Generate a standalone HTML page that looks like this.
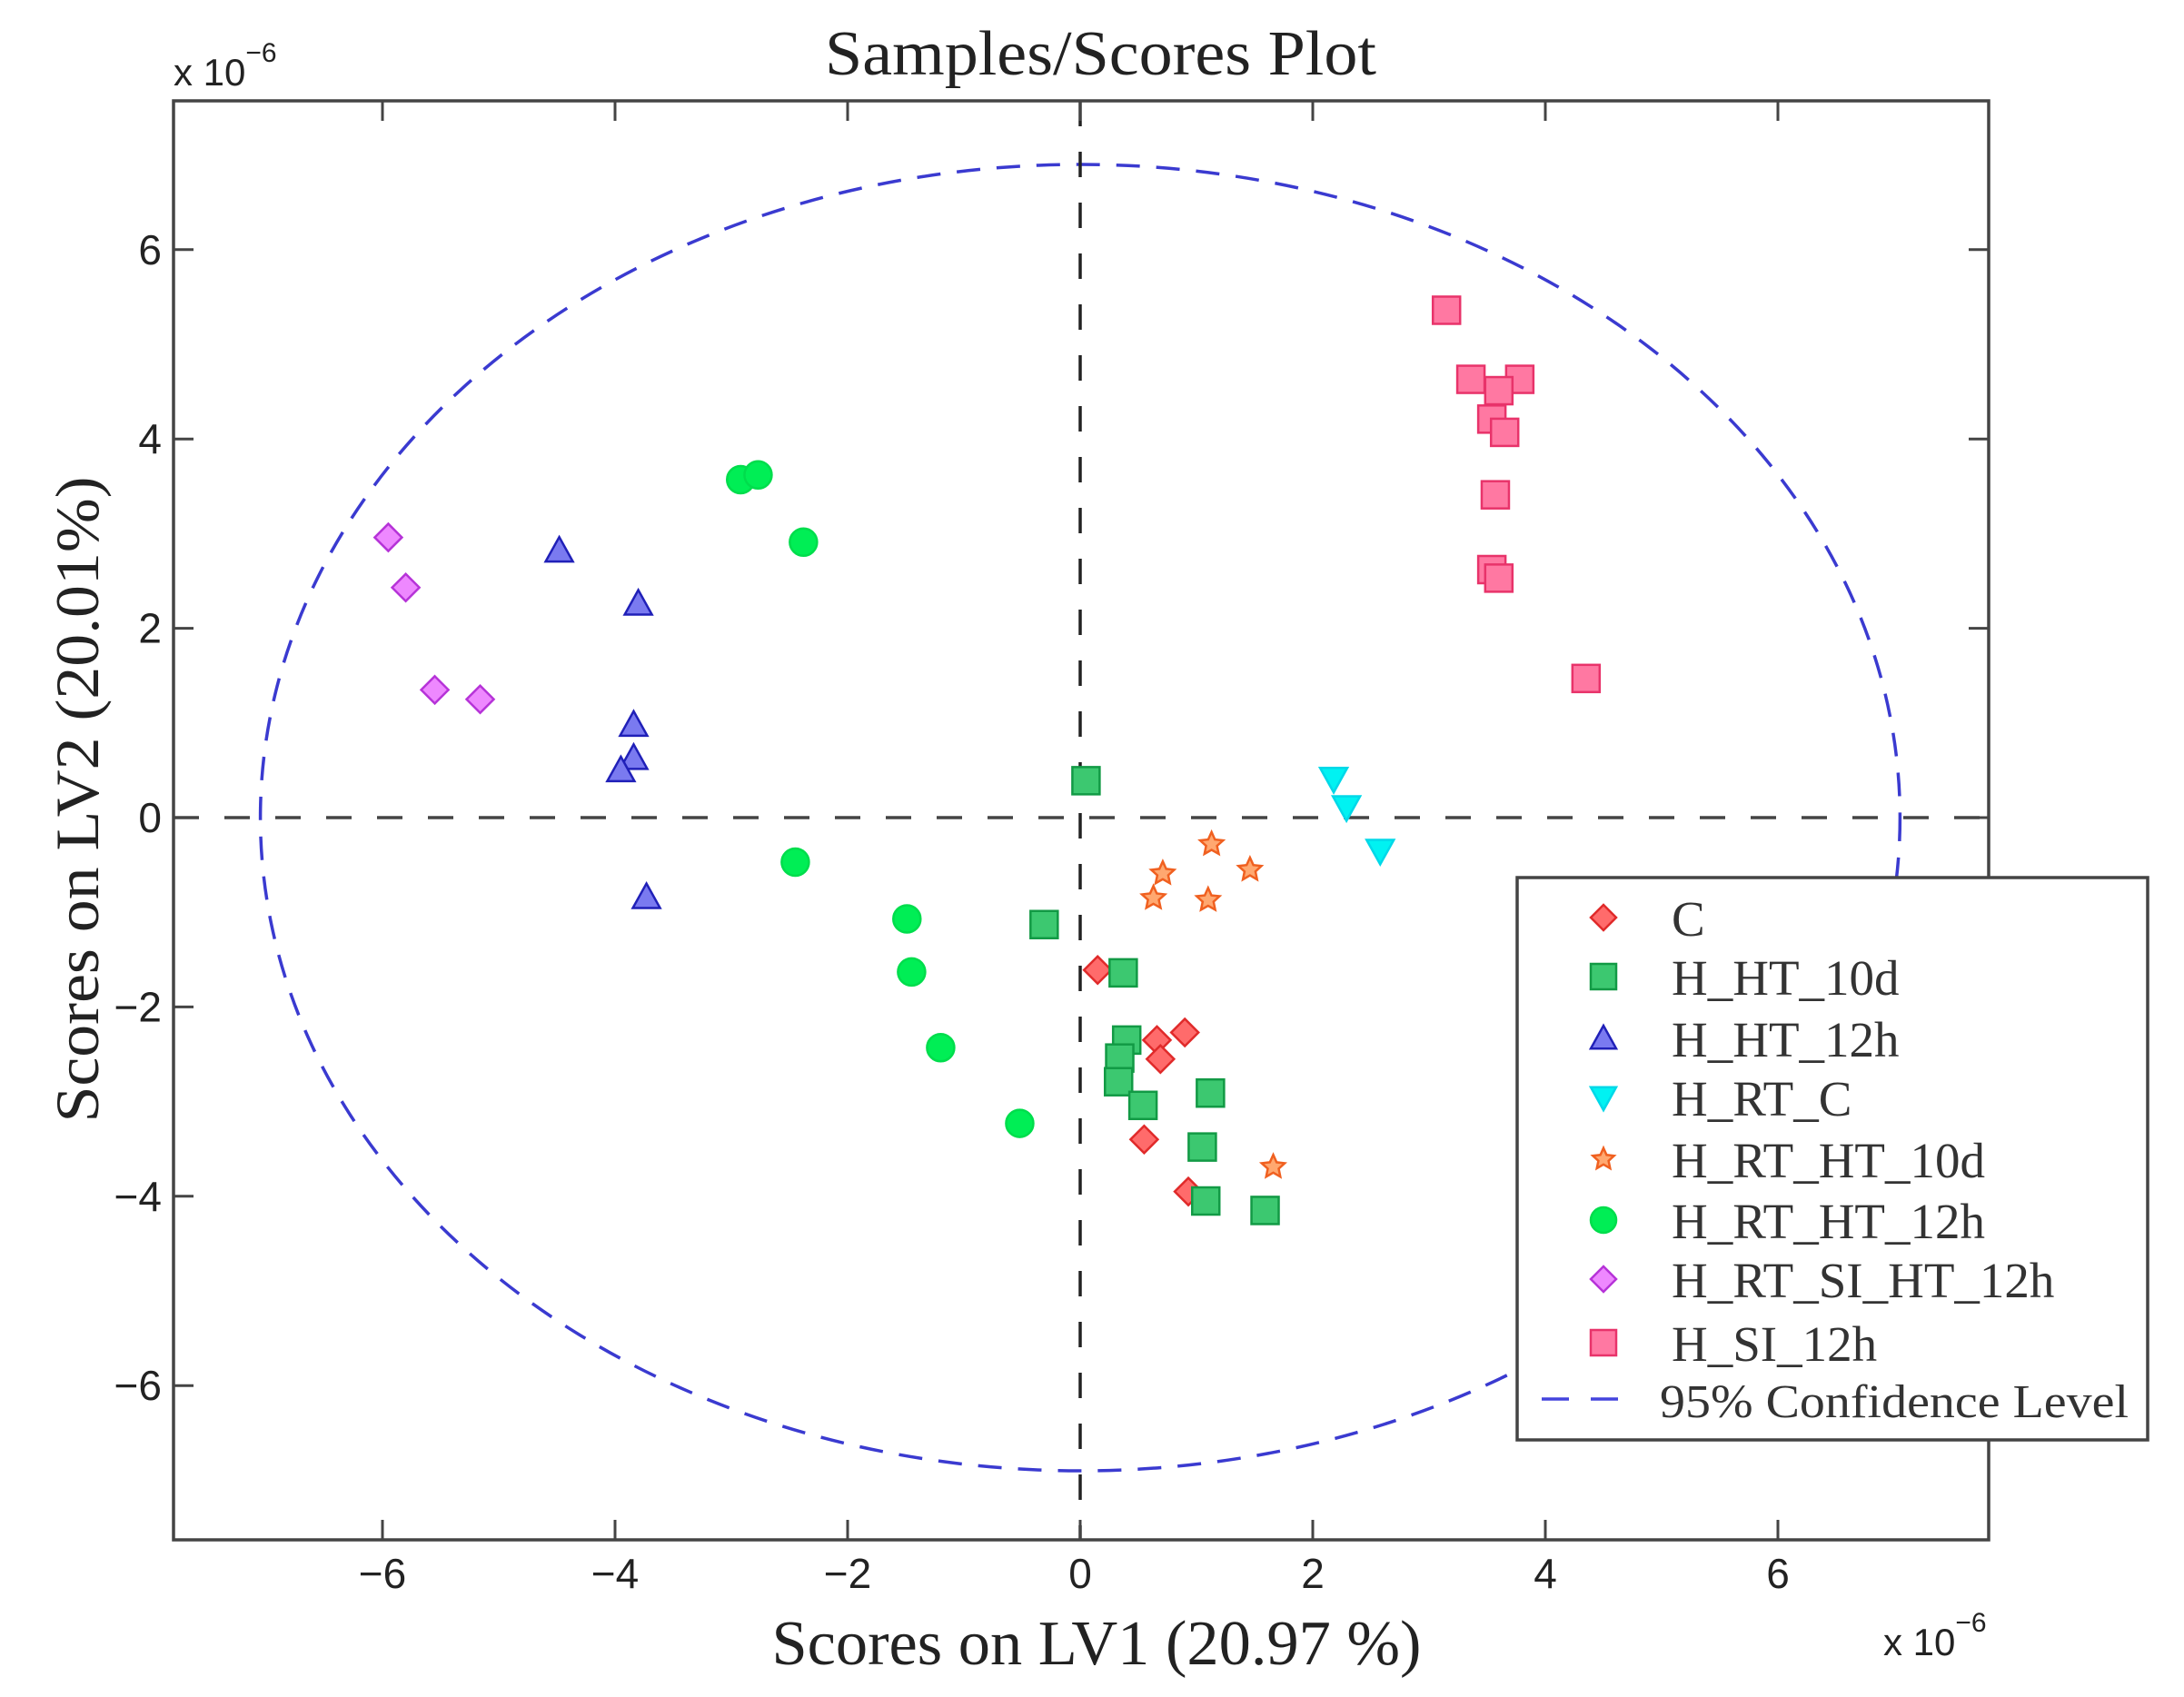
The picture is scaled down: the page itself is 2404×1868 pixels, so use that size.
<!DOCTYPE html>
<html><head><meta charset="utf-8"><style>
html,body{margin:0;padding:0;background:#fff;}
svg{display:block;}
</style></head><body>
<svg id="chart" width="2404" height="1868" viewBox="0 0 2404 1868" xmlns="http://www.w3.org/2000/svg">
<rect width="2404" height="1868" fill="#fff"/>
<text x="908" y="82" font-family="Liberation Serif, serif" font-size="70" fill="#222" textLength="607" lengthAdjust="spacingAndGlyphs">Samples/Scores Plot</text>
<g id="plot"></g>
</svg>
<script>
const xTicks = [-6,-4,-2,0,2,4,6];
const yTicks = [-6,-4,-2,0,2,4,6];
const seriesNames = ["C","H_HT_10d","H_HT_12h","H_RT_C","H_RT_HT_10d","H_RT_HT_12h","H_RT_SI_HT_12h","H_SI_12h"];
const cX = [0.15,0.66,0.90,0.69,0.55,0.93];
const cY = [-1.61,-2.35,-2.27,-2.55,-3.40,-3.95];
const ht10X = [0.05,-0.31,0.37,0.40,0.34,0.33,0.54,1.12,1.05,1.08,1.59];
const ht10Y = [0.39,-1.13,-1.64,-2.35,-2.54,-2.79,-3.04,-2.91,-3.48,-4.05,-4.15];
const ht12X = [-4.48,-3.80,-3.84,-3.84,-3.95,-3.73];
const ht12Y = [2.82,2.26,0.98,0.63,0.50,-0.84];
const rtcX = [2.18,2.29,2.58];
const rtcY = [0.41,0.11,-0.35];
const rtht10X = [1.13,0.71,1.46,0.63,1.10,1.66];
const rtht10Y = [-0.28,-0.59,-0.55,-0.85,-0.87,-3.69];
const rtht12X = [-2.92,-2.77,-2.38,-2.45,-1.49,-1.45,-1.20,-0.52];
const rtht12Y = [3.57,3.62,2.91,-0.47,-1.07,-1.63,-2.43,-3.23];
const rtsiX = [-5.95,-5.80,-5.55,-5.16];
const rtsiY = [2.96,2.43,1.35,1.25];
const siX = [3.15,3.36,3.78,3.60,3.54,3.65,3.57,3.54,3.60,4.35];
const siY = [5.36,4.63,4.63,4.51,4.21,4.07,3.41,2.62,2.53,1.47];
const ellipseR = [7.05, 6.9];

const L=191,R=2189,T=111,B=1695,X0=1189,Y0=900,UX=128,UY=104.2;
const sx=v=>X0+v*UX, sy=v=>Y0-v*UY;
const NS="http://www.w3.org/2000/svg";
const g=document.getElementById('plot');
function mk(tag,attrs,parent){const e=document.createElementNS(NS,tag);for(const k in attrs)e.setAttribute(k,attrs[k]);(parent||g).appendChild(e);return e;}

let el=mk('ellipse',{cx:sx(0),cy:sy(0),rx:ellipseR[0]*UX,ry:ellipseR[1]*UY,fill:'none',stroke:'#3a3ad0','stroke-width':3.5,'stroke-dasharray':'26 18'});


let hl=mk('line',{x1:L,x2:R,y1:sy(0),y2:sy(0),stroke:'#444','stroke-width':3.5,'stroke-dasharray':'28 28'});


let vl=mk('line',{x1:sx(0),x2:sx(0),y1:T,y2:B,stroke:'#222','stroke-width':3.5,'stroke-dasharray':'28 28'});



let fr=mk('rect',{x:L,y:T,width:R-L,height:B-T,fill:'none',stroke:'#444','stroke-width':3.5});


xTicks.forEach(v=>{
  mk('line',{x1:sx(v),x2:sx(v),y1:B,y2:B-22,stroke:'#444','stroke-width':3});
  mk('line',{x1:sx(v),x2:sx(v),y1:T,y2:T+22,stroke:'#444','stroke-width':3});
  let t=mk('text',{x:sx(v),y:1748,'text-anchor':'middle','font-family':'Liberation Sans, sans-serif','font-size':46,fill:'#222'});
  t.textContent=(v<0?'\u2212':'')+Math.abs(v);
  
  
});
yTicks.forEach(v=>{
  mk('line',{x1:L,x2:L+22,y1:sy(v),y2:sy(v),stroke:'#444','stroke-width':3});
  mk('line',{x1:R,x2:R-22,y1:sy(v),y2:sy(v),stroke:'#444','stroke-width':3});
  let t=mk('text',{x:178,y:sy(v)+16,'text-anchor':'end','font-family':'Liberation Sans, sans-serif','font-size':46,fill:'#222'});
  t.textContent=(v<0?'\u2212':'')+Math.abs(v);
  
  
});

function expo(x,y,name){
  let t=mk('text',{x:x,y:y,'font-family':'Liberation Sans, sans-serif','font-size':42,fill:'#222'});
  t.innerHTML='x 10<tspan dy="-26" font-size="30">\u22126</tspan>';
  
  
}
expo(191,94,'y-axis-exponent');
expo(2073,1822,'x-axis-exponent');

let xt=mk('text',{x:1207,y:1832,'text-anchor':'middle','font-family':'Liberation Serif, serif','font-size':70,fill:'#222',textLength:715,lengthAdjust:'spacingAndGlyphs'});
xt.textContent='Scores on LV1 (20.97 %)';


let yt=mk('text',{x:0,y:0,'text-anchor':'middle','font-family':'Liberation Serif, serif','font-size':68,fill:'#222',textLength:711,lengthAdjust:'spacingAndGlyphs',transform:'translate(108,880) rotate(-90)'});
yt.textContent='Scores on LV2 (20.01%)';



const styles=[
 {shape:'diamond',fill:'#ff6b6b',stroke:'#e02a2a'},
 {shape:'square',fill:'#3cc870',stroke:'#129a45'},
 {shape:'tri',fill:'#7a7af0',stroke:'#2020b8'},
 {shape:'dtri',fill:'#00f2f2',stroke:'#00d8e8'},
 {shape:'star',fill:'#ffa870',stroke:'#f06020'},
 {shape:'circle',fill:'#00ee55',stroke:'#00dd4c'},
 {shape:'diamond',fill:'#ee88ff',stroke:'#b633d8'},
 {shape:'square',fill:'#ff78a2',stroke:'#e8336a'}
];
function marker(shape,x,y,st,parent,s){
  s=s||15;let e;
  if(shape==='square')e=mk('rect',{x:x-s,y:y-s,width:2*s,height:2*s},parent);
  else if(shape==='circle')e=mk('circle',{cx:x,cy:y,r:s},parent);
  else if(shape==='diamond')e=mk('polygon',{points:`${x},${y-s} ${x+s},${y} ${x},${y+s} ${x-s},${y}`},parent);
  else if(shape==='tri')e=mk('polygon',{points:`${x},${y-s} ${x+s},${y+s*0.8} ${x-s},${y+s*0.8}`},parent);
  else if(shape==='dtri')e=mk('polygon',{points:`${x-s},${y-s*0.8} ${x+s},${y-s*0.8} ${x},${y+s}`},parent);
  else {let p=[];for(let i=0;i<10;i++){const r=i%2?s*0.45:s*0.95,a=-Math.PI/2+i*Math.PI/5;p.push((x+r*Math.cos(a)).toFixed(1)+','+(y+r*Math.sin(a)).toFixed(1));}e=mk('polygon',{points:p.join(' ')},parent);}
  e.setAttribute('fill',st.fill);e.setAttribute('stroke',st.stroke);e.setAttribute('stroke-width',2.5);
  return e;
}
const data=[[cX,cY],[ht10X,ht10Y],[ht12X,ht12Y],[rtcX,rtcY],[rtht10X,rtht10Y],[rtht12X,rtht12Y],[rtsiX,rtsiY],[siX,siY]];
data.forEach((d,i)=>{
  const grp=mk('g',{});
  
  
  d[0].forEach((xv,j)=>{
    const m=marker(styles[i].shape,sx(xv),sy(d[1][j]),styles[i],grp,styles[i].shape==='star'?14:15);
    
    
  });
});

const lg=mk('g',{});


mk('rect',{x:1670,y:966,width:694,height:619,fill:'#fff',stroke:'#444','stroke-width':3.5},lg);
const rowY=[1010,1075,1143,1208,1276,1343,1408,1478];
seriesNames.forEach((n,i)=>{
  const e=mk('g',{},lg);
  
  
  marker(styles[i].shape,1765,rowY[i],styles[i],e,styles[i].shape==='star'?13:14);
  const t=mk('text',{x:1840,y:rowY[i]+20,'font-family':'Liberation Serif, serif','font-size':55,fill:'#333'},e);
  t.textContent=n;
});
const ce=mk('g',{},lg);


mk('line',{x1:1697,x2:1781,y1:1540,y2:1540,stroke:'#4444dd','stroke-width':3.5,'stroke-dasharray':'30 24'},ce);
const ct=mk('text',{x:1827,y:1560,'font-family':'Liberation Serif, serif','font-size':52,fill:'#333',textLength:516,lengthAdjust:'spacingAndGlyphs'},ce);
ct.textContent='95% Confidence Level';
</script>
</body></html>
